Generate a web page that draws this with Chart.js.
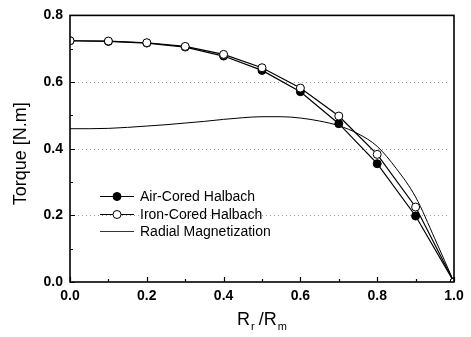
<!DOCTYPE html>
<html>
<head>
<meta charset="utf-8">
<script src="https://cdn.jsdelivr.net/npm/chart.js@4/dist/chart.umd.min.js"></script>
<style>
  html, body { margin: 0; padding: 0; background: #fff; }
  #wrap { width: 471px; height: 337px; position: relative; }
</style>
</head>
<body>
<div id="wrap"><canvas id="torqueChart" width="471" height="337"></canvas></div>
<script>
// Torque vs Rr/Rm — three magnetization schemes

const xHalbach = [0.0, 0.1, 0.2, 0.3, 0.4, 0.5, 0.6, 0.7, 0.8, 0.9, 1.0];
const airCored = [0.724, 0.722, 0.717, 0.705, 0.678, 0.635, 0.571, 0.475, 0.355, 0.198, 0.0];
const ironCored = [0.724, 0.723, 0.718, 0.707, 0.683, 0.643, 0.582, 0.498, 0.383, 0.225, 0.0];

const xRadial = [0.0, 0.05, 0.1, 0.15, 0.2, 0.25, 0.3, 0.35, 0.4, 0.45, 0.5,
                 0.55, 0.6, 0.65, 0.7, 0.75, 0.8, 0.85, 0.9, 0.95, 1.0];
const radial = [0.460, 0.460, 0.461, 0.464, 0.468, 0.472, 0.477, 0.482, 0.488, 0.493, 0.496,
                0.496, 0.492, 0.483, 0.469, 0.445, 0.407, 0.340, 0.255, 0.130, 0.0];

const seriesLabels = ['Air-Cored Halbach', 'Iron-Cored Halbach', 'Radial Magnetization'];
const xTicks = [0.0, 0.2, 0.4, 0.6, 0.8, 1.0];
const yTicks = [0.0, 0.2, 0.4, 0.6, 0.8];
const xMinor = [0.1, 0.3, 0.5, 0.7, 0.9];
const yMinor = [0.1, 0.3, 0.5, 0.7];
const gridValues = [0.2, 0.4, 0.6];

const FONT = "'Liberation Sans', Arial, sans-serif";

function toPoints(xs, ys) {
  return xs.map((x, i) => ({ x: x, y: ys[i] }));
}

// dotted grid behind the data, clip markers to the plot box
const gridPlugin = {
  id: 'dottedGrid',
  beforeDatasetsDraw(chart) {
    const ctx = chart.ctx;
    const a = chart.chartArea;
    const ys = chart.scales.y;
    ctx.save();
    ctx.strokeStyle = '#9a9a9a';
    ctx.lineWidth = 1;
    ctx.setLineDash([1, 3]);
    ctx.beginPath();
    gridValues.forEach(v => {
      const p = Math.round(ys.getPixelForValue(v)) + 0.5;
      ctx.moveTo(a.left + 8, p);
      ctx.lineTo(a.right - 4, p);
    });
    ctx.stroke();
    ctx.restore();

    ctx.save();
    ctx.beginPath();
    ctx.rect(a.left, a.top, a.right - a.left, a.bottom - a.top);
    ctx.clip();
  },
  afterDatasetsDraw(chart) {
    chart.ctx.restore();
  }
};

// frame, inward ticks, legend, axis titles
const decorPlugin = {
  id: 'decor',
  afterDatasetsDraw(chart) {
    const ctx = chart.ctx;
    const a = chart.chartArea;
    const xs = chart.scales.x;
    const ys = chart.scales.y;
    ctx.save();

    // inward ticks
    ctx.strokeStyle = '#000';
    ctx.lineWidth = 1.2;
    ctx.beginPath();
    yTicks.forEach(v => { const p = Math.round(ys.getPixelForValue(v)) + 0.5; ctx.moveTo(a.left, p); ctx.lineTo(a.left + 5, p); });
    yMinor.forEach(v => { const p = Math.round(ys.getPixelForValue(v)) + 0.5; ctx.moveTo(a.left, p); ctx.lineTo(a.left + 3, p); });
    xTicks.forEach(v => { const p = Math.round(xs.getPixelForValue(v)) + 0.5; ctx.moveTo(p, a.bottom); ctx.lineTo(p, a.bottom - 5); });
    xMinor.forEach(v => { const p = Math.round(xs.getPixelForValue(v)) + 0.5; ctx.moveTo(p, a.bottom); ctx.lineTo(p, a.bottom - 3); });
    ctx.stroke();

    // frame
    ctx.lineWidth = 1.6;
    ctx.strokeRect(a.left, a.top, a.right - a.left, a.bottom - a.top);

    // legend
    const lx = 100, lw = 34, tx = 140;
    const rows = [196, 214, 231];
    ctx.font = '14px ' + FONT;
    ctx.textBaseline = 'middle';
    ctx.fillStyle = '#000';
    rows.forEach((ry, i) => {
      ctx.lineWidth = i === 2 ? 0.8 : 1.2;
      ctx.beginPath();
      ctx.moveTo(lx, ry + 0.5);
      ctx.lineTo(lx + lw, ry + 0.5);
      ctx.stroke();
      if (i < 2) {
        ctx.beginPath();
        ctx.arc(lx + lw / 2, ry + 0.5, 4, 0, Math.PI * 2);
        ctx.fillStyle = i === 0 ? '#000' : '#fff';
        ctx.fill();
        ctx.lineWidth = 1;
        ctx.stroke();
        ctx.fillStyle = '#000';
      }
      ctx.fillText(seriesLabels[i], tx, ry + 1);
    });

    // y title
    ctx.save();
    ctx.translate(21, (a.top + a.bottom) / 2 + 5);
    ctx.rotate(-Math.PI / 2);
    ctx.textAlign = 'center';
    ctx.textBaseline = 'middle';
    ctx.font = '18px ' + FONT;
    ctx.fillText('Torque [N.m]', 0, 0);
    ctx.restore();

    // x title: R_r /R_m
    const base = 325;
    let cx = 237;
    ctx.textAlign = 'left';
    ctx.textBaseline = 'alphabetic';
    const big = '18px ' + FONT, small = '11px ' + FONT;
    ctx.font = big; ctx.fillText('R', cx, base); cx += ctx.measureText('R').width + 1;
    ctx.font = small; ctx.fillText('r', cx, base + 5); cx += ctx.measureText('r').width + 4;
    ctx.font = big; ctx.fillText('/R', cx, base); cx += ctx.measureText('/R').width + 1;
    ctx.font = small; ctx.fillText('m', cx, base + 5);

    ctx.restore();
  }
};

new Chart(document.getElementById('torqueChart'), {
  type: 'line',
  data: {
    datasets: [
      {
        label: seriesLabels[2],
        data: toPoints(xRadial, radial),
        borderColor: '#000',
        borderWidth: 1,
        pointRadius: 0,
        tension: 0.4,
        cubicInterpolationMode: 'monotone',
        order: 3
      },
      {
        label: seriesLabels[0],
        data: toPoints(xHalbach, airCored),
        borderColor: '#000',
        borderWidth: 1.2,
        pointRadius: 4,
        pointBackgroundColor: '#000',
        pointBorderColor: '#000',
        pointBorderWidth: 1,
        tension: 0,
        order: 2
      },
      {
        label: seriesLabels[1],
        data: toPoints(xHalbach, ironCored),
        borderColor: '#000',
        borderWidth: 1.2,
        pointRadius: 4,
        pointBackgroundColor: '#fff',
        pointBorderColor: '#000',
        pointBorderWidth: 1,
        tension: 0,
        order: 1
      }
    ]
  },
  options: {
    responsive: false,
    animation: false,
    layout: { padding: { top: 13, right: 17, left: 0, bottom: 0 } },
    plugins: {
      legend: { display: false },
      tooltip: { enabled: false }
    },
    scales: {
      x: {
        type: 'linear',
        min: 0,
        max: 1,
        afterFit: (s) => { s.height = 55; },
        afterBuildTicks: (s) => { s.ticks = xTicks.map(v => ({ value: v })); },
        border: { display: false },
        grid: { display: false, drawTicks: false },
        ticks: {
          padding: 6,
          color: '#000',
          font: { family: FONT, size: 14, weight: 'bold' },
          callback: (v) => v.toFixed(1)
        }
      },
      y: {
        type: 'linear',
        min: 0,
        max: 0.8,
        afterFit: (s) => { s.width = 70; },
        afterBuildTicks: (s) => { s.ticks = yTicks.map(v => ({ value: v })); },
        border: { display: false },
        grid: { display: false, drawTicks: false },
        ticks: {
          padding: 7,
          color: '#000',
          font: { family: FONT, size: 14, weight: 'bold' },
          callback: (v) => v.toFixed(1)
        }
      }
    }
  },
  plugins: [gridPlugin, decorPlugin]
});
</script>
</body>
</html>
